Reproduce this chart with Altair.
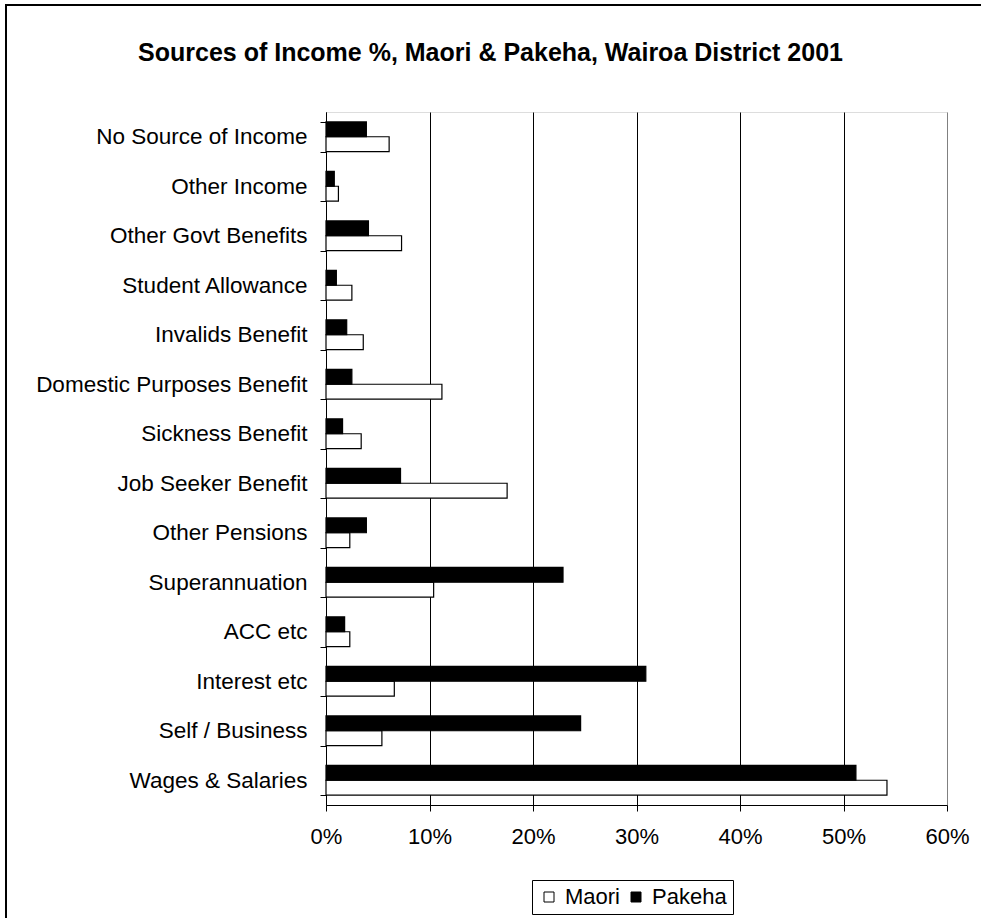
import altair as alt
import pandas as pd

categories = [
    "No Source of Income", "Other Income", "Other Govt Benefits", "Student Allowance",
    "Invalids Benefit", "Domestic Purposes Benefit", "Sickness Benefit", "Job Seeker Benefit",
    "Other Pensions", "Superannuation", "ACC etc", "Interest etc", "Self / Business",
    "Wages & Salaries",
]
maori = [6.1, 1.2, 7.3, 2.5, 3.6, 11.2, 3.4, 17.5, 2.3, 10.4, 2.3, 6.6, 5.4, 54.2]
pakeha = [3.9, 0.8, 4.1, 1.0, 2.0, 2.5, 1.6, 7.2, 3.9, 22.9, 1.8, 30.9, 24.6, 51.2]
series = ["Maori", "Pakeha"]
x_ticks = [0, 10, 20, 30, 40, 50, 60]

rows = []
for c, m, p in zip(categories, maori, pakeha):
    rows.append({"Source": c, "Group": "Maori", "Pct": m})
    rows.append({"Source": c, "Group": "Pakeha", "Pct": p})
df = pd.DataFrame(rows)

FONT = "Liberation Sans"

bars = alt.Chart(df).mark_bar(stroke="black", strokeWidth=1.2).encode(
    y=alt.Y("Source:N", sort=categories,
            scale=alt.Scale(paddingInner=0.4, paddingOuter=0.2),
            axis=alt.Axis(title=None, tickBand="extent", tickSize=6, labelPadding=13,
                          labelFontSize=22.5, labelFont=FONT, labelColor="black",
                          domainColor="black", tickColor="black", grid=False,
                          labelLimit=500)),
    yOffset=alt.YOffset("Group:N", scale=alt.Scale(domain=["Pakeha", "Maori"], paddingInner=0, paddingOuter=0)),
    x=alt.X("Pct:Q", scale=alt.Scale(domain=[0, 60], nice=False),
            axis=alt.Axis(title=None, values=x_ticks, labelExpr="datum.value + '%'",
                          labelFlush=False,
                          tickSize=6, labelPadding=15, labelFontSize=22, labelFont=FONT,
                          labelColor="black", domainColor="black", tickColor="black",
                          grid=True,
                          gridColor=alt.condition("datum.value >= 60", alt.value("#808080"), alt.value("black")),
                          gridWidth=1)),
    fill=alt.Fill("Group:N", scale=alt.Scale(domain=series, range=["white", "black"]),
                  legend=alt.Legend(title=None, orient="none", legendX=206, legendY=768,
                                    direction="horizontal", symbolType="square",
                                    symbolSize=100, symbolStrokeColor="black",
                                    symbolStrokeWidth=1, labelFontSize=22, labelFont=FONT,
                                    labelColor="black", strokeColor="black", padding=6,
                                    labelOffset=5, columnPadding=4)),
)

frame_left = alt.Chart(alt.Data(values=[{}])).mark_rule(color="black", strokeWidth=2).encode(
    x=alt.value(-320), y=alt.value(-107), y2=alt.value(820)
)
frame_top = alt.Chart(alt.Data(values=[{}])).mark_rule(color="black", strokeWidth=2).encode(
    y=alt.value(-107), x=alt.value(-321), x2=alt.value(660)
)

chart = alt.layer(bars, frame_left, frame_top).properties(
    width=621, height=693,
    padding={"left": 326, "top": 112, "right": 34, "bottom": 113},
    autosize=alt.AutoSizeParams(type="none"),
    title=alt.Title("Sources of Income %, Maori & Pakeha, Wairoa District 2001",
                    font=FONT, fontSize=25, fontWeight="bold", color="black",
                    anchor="middle", frame="group", dx=-146, offset=-62),
).configure_view(stroke="#808080", strokeWidth=1.5).configure(background="white")

chart.save("out.html", embed_options={"renderer": "svg", "actions": False})
